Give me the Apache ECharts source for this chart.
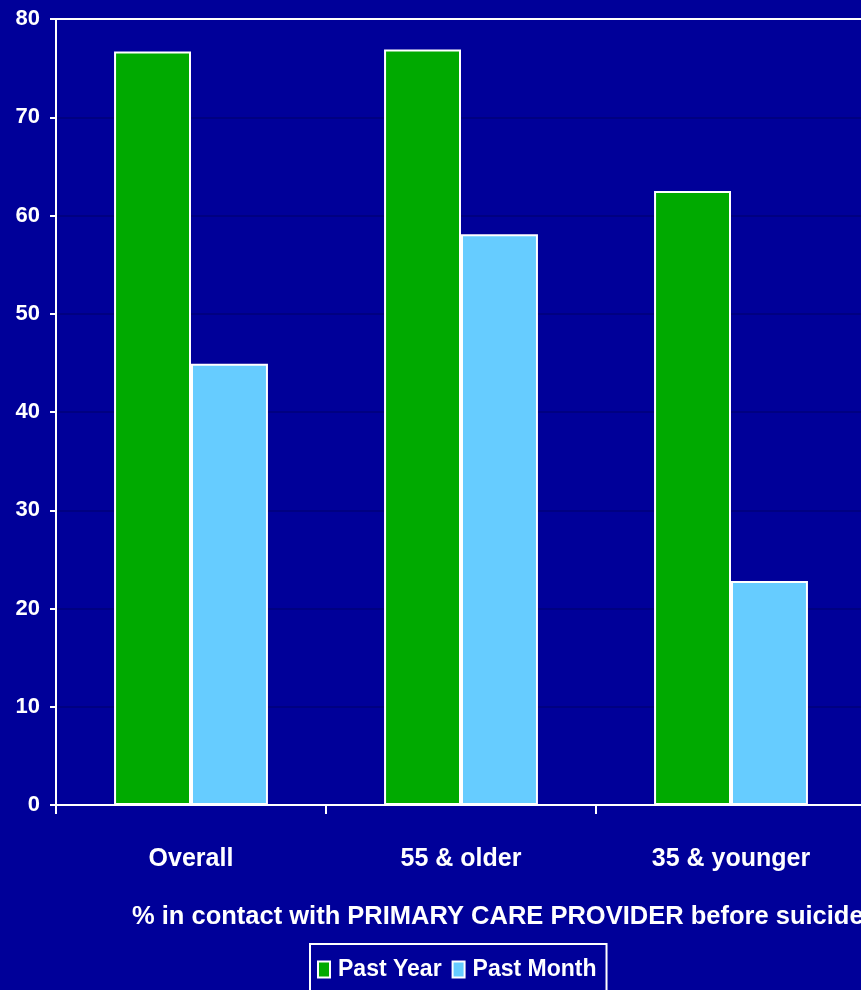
<!DOCTYPE html>
<html>
<head>
<meta charset="utf-8">
<style>
  html, body { margin: 0; padding: 0; background: #000099; overflow: hidden; }
  /* the plot runs slightly past the right edge of the window */
  #chart { width: 866px; height: 990px; }
</style>
<script src="https://cdn.jsdelivr.net/npm/echarts@6/dist/echarts.min.js"></script>
</head>
<body>
<div id="chart"></div>
<script>
// Share of suicide decedents in contact with a primary care provider
const categories = ['Overall', '55 & older', '35 & younger'];
const pastYear = [76.7, 76.9, 62.5];
const pastMonth = [44.9, 58.1, 22.8];
const seriesNames = ['Past Year', 'Past Month'];
const axisTitle = '% in contact with PRIMARY CARE PROVIDER before suicide';

const FONT = '"Liberation Sans", Arial, sans-serif';
const chart = echarts.init(document.getElementById('chart'));

chart.setOption({
  backgroundColor: '#000099',
  animation: false,
  title: {
    text: axisTitle,
    left: 132,
    top: 904,
    padding: 0,
    textStyle: { color: '#fff', fontFamily: FONT, fontWeight: 'bold', fontSize: 25.5 }
  },
  legend: {
    data: seriesNames,
    left: 310,
    top: 944,
    padding: [14, 10, 14, 7],
    borderColor: '#fff',
    borderWidth: 2,
    itemWidth: 12,
    itemHeight: 16,
    itemGap: 10,
    icon: 'rect',
    textStyle: { color: '#fff', fontFamily: FONT, fontWeight: 'bold', fontSize: 23, padding: [0, 0, 0, 3] }
  },
  grid: { left: 56, top: 19, right: 0, bottom: 185, containLabel: false },
  xAxis: [{
    type: 'category',
    data: categories,
    axisLine: { lineStyle: { color: '#fff', width: 2 } },
    axisTick: { show: true, interval: 0, length: 9, lineStyle: { color: '#fff', width: 2 } },
    axisLabel: { color: '#fff', fontFamily: FONT, fontWeight: 'bold', fontSize: 25, margin: 42 }
  }, {
    type: 'category',
    position: 'top',
    data: categories,
    axisLine: { lineStyle: { color: '#fff', width: 2 } },
    axisTick: { show: false },
    axisLabel: { show: false }
  }],
  yAxis: {
    type: 'value',
    min: 0,
    max: 80,
    interval: 10,
    axisLine: { show: true, lineStyle: { color: '#fff', width: 2 } },
    axisTick: { show: true, length: 6, lineStyle: { color: '#fff', width: 2 } },
    axisLabel: { color: '#fff', fontFamily: FONT, fontWeight: 'bold', fontSize: 22, margin: 16 },
    splitLine: { show: true, lineStyle: { color: '#00007a', width: 1.5 } }
  },
  series: [{
    name: seriesNames[0],
    type: 'bar',
    data: pastYear,
    barGap: '0%',
    barCategoryGap: '43%',
    itemStyle: { color: '#00aa00', borderColor: '#fff', borderWidth: 2 }
  }, {
    name: seriesNames[1],
    type: 'bar',
    data: pastMonth,
    itemStyle: { color: '#66ccff', borderColor: '#fff', borderWidth: 2 }
  }]
});
</script>
</body>
</html>
